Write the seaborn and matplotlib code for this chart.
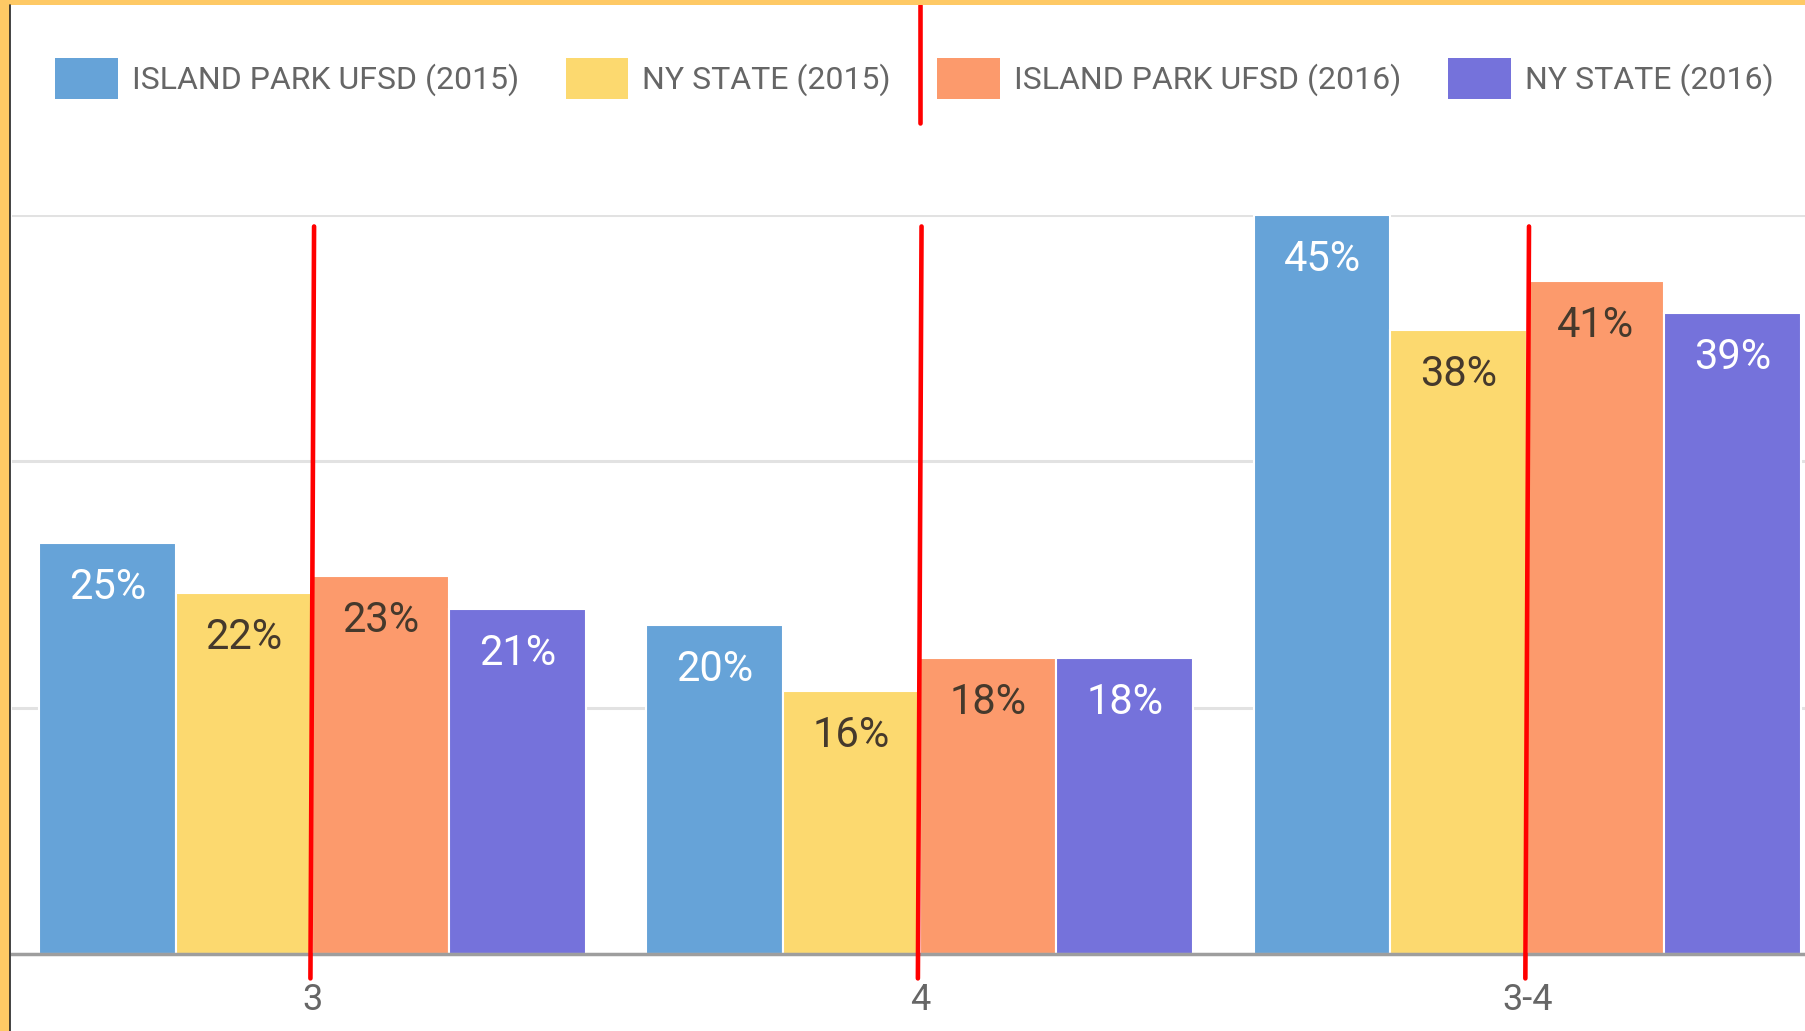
import matplotlib
matplotlib.use("Agg")
import matplotlib.pyplot as plt
from matplotlib.patches import Patch, Rectangle
from matplotlib.lines import Line2D
import seaborn as sns
import pandas as pd

# ---- data ----
categories = ["3", "4", "3-4"]
series = ["ISLAND PARK UFSD (2015)", "NY STATE (2015)",
          "ISLAND PARK UFSD (2016)", "NY STATE (2016)"]
island_park_2015 = [25, 20, 45]
ny_state_2015 = [22, 16, 38]
island_park_2016 = [23, 18, 41]
ny_state_2016 = [21, 18, 39]
colors = ["#66a3d8", "#fcd96f", "#fc9a6c", "#7572db"]
label_colors = ["white", "#45392c", "#45392c", "white"]

values = [island_park_2015, ny_state_2015, island_park_2016, ny_state_2016]
rows = []
for s, vals in zip(series, values):
    for c, v in zip(categories, vals):
        rows.append({"category": c, "series": s, "value": v})
df = pd.DataFrame(rows)

sns.set_style("white")
plt.rcParams["font.family"] = ["Roboto", "DejaVu Sans"]

fig = plt.figure(figsize=(18.06, 10.31), dpi=100)
ax = fig.add_axes([0.0064, 0.0749, 0.9936, 0.7166])

sns.barplot(data=df, x="category", y="value", hue="series", hue_order=series,
            order=categories, palette=colors, width=0.9, saturation=1,
            edgecolor="white", linewidth=1.5, legend=False, ax=ax)

ax.set_ylim(0, 45)
ax.set_xlim(-0.495, 2.459)
ax.set_yticks([0, 15, 30, 45])
ax.set_yticklabels([])
ax.yaxis.grid(True, color="#e2e2e2", linewidth=2.2)
ax.set_axisbelow(True)
for sp in ["left", "right", "top"]:
    ax.spines[sp].set_visible(False)
ax.spines["bottom"].set_color("#9e9e9e")
ax.spines["bottom"].set_linewidth(2.5)
ax.spines["bottom"].set_zorder(5)
ax.tick_params(axis="x", length=0, pad=20, labelsize=26, labelcolor="#666666")
ax.tick_params(axis="y", length=0)
ax.set_xlabel("")
ax.set_ylabel("")

# value labels inside bars
for cont, lc in zip(ax.containers, label_colors):
    for p in cont.patches:
        h = p.get_height()
        ax.annotate(f"{h:.0f}%", (p.get_x() + p.get_width() / 2, h),
                    xytext=(0, -32), textcoords="offset points",
                    ha="center", va="center", fontsize=30, color=lc, zorder=6)

# legend
handles = [Patch(facecolor=c, edgecolor="none") for c in colors]
fig.legend(handles, series, loc="center left", bbox_to_anchor=(0.0305, 0.924),
           ncol=4, frameon=False, fontsize=23, labelcolor="#666666",
           handlelength=1.97, handleheight=1.63, handletextpad=0.44,
           columnspacing=1.45, borderpad=0, borderaxespad=0)

# red annotation lines at category centres
for i in range(len(categories)):
    ax.plot([i + 0.003, i - 0.003], [44.3, -1.5], color="#ff0000",
            linewidth=3.3, clip_on=False, zorder=7)
ax.plot([1.0, 1.0], [50.6, 57.8], color="#ff0000", linewidth=3.3,
        clip_on=False, zorder=7)

# border of the screenshot
fig.patches.append(Rectangle((0, 0), 10 / 1806, 1, transform=fig.transFigure,
                             facecolor="#fec965", edgecolor="none", zorder=10))
fig.patches.append(Rectangle((0, 1 - 5 / 1031), 1, 5 / 1031, transform=fig.transFigure,
                             facecolor="#fec965", edgecolor="none", zorder=10))
fig.lines.append(Line2D([10.5 / 1806, 10.5 / 1806], [0, 1 - 5 / 1031], transform=fig.transFigure,
                        color="#222222", linewidth=1.2, zorder=11))

fig.savefig("out.png", dpi=100, facecolor="white")
